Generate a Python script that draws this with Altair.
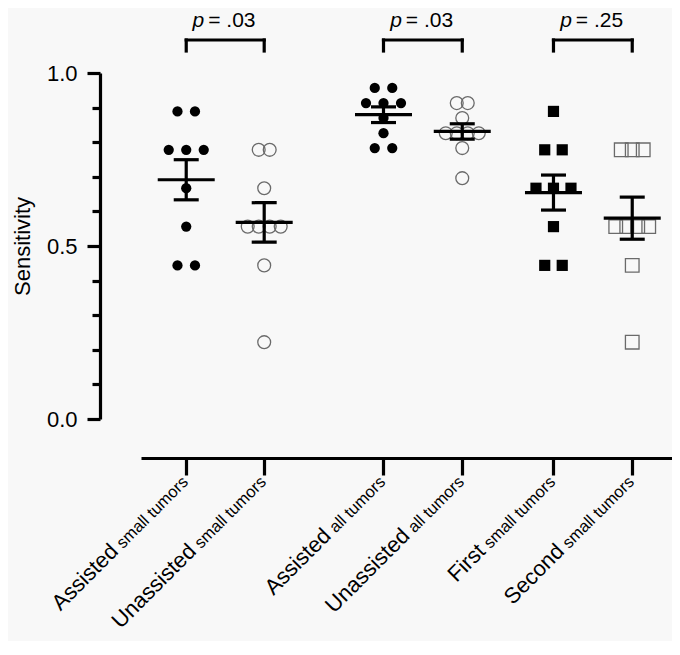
import altair as alt
import pandas as pd

# ---------------- data ----------------
groups = ["Assisted small", "Unassisted small", "Assisted all",
          "Unassisted all", "First small", "Second small"]
main_words = ["Assisted", "Unassisted", "Assisted", "Unassisted", "First", "Second"]
suffixes = ["small tumors", "small tumors", "all tumors", "all tumors",
            "small tumors", "small tumors"]

assisted_small = [0.889, 0.889, 0.778, 0.778, 0.778, 0.667, 0.556, 0.444, 0.444]
unassisted_small = [0.778, 0.778, 0.667, 0.556, 0.556, 0.556, 0.556, 0.444, 0.222]
assisted_all = [0.957, 0.957, 0.913, 0.913, 0.913, 0.870, 0.826, 0.783, 0.783]
unassisted_all = [0.913, 0.913, 0.870, 0.826, 0.826, 0.826, 0.826, 0.783, 0.696]
first_small = [0.889, 0.778, 0.778, 0.667, 0.667, 0.667, 0.556, 0.444, 0.444]
second_small = [0.778, 0.778, 0.778, 0.556, 0.556, 0.556, 0.556, 0.444, 0.222]
series = [assisted_small, unassisted_small, assisted_all,
          unassisted_all, first_small, second_small]

p_values = ["= .03", "= .03", "= .25"]
pair_first = [0, 2, 4]
pair_second = [1, 3, 5]

# ---------------- layout / style ----------------
positions = [1.0, 2.0, 3.53, 4.54, 5.71, 6.72]
markers = ["circle", "circle", "circle", "circle", "square", "square"]
filled = [True, False, True, False, True, False]
X_DOMAIN = [0.42, 7.23]
W, H = 531, 346
PX_PER_UNIT = W / (X_DOMAIN[1] - X_DOMAIN[0])
FONT = "Liberation Sans"
LW = 3.2

rows = []
for g, pos, vals, mk, fl in zip(groups, positions, series, markers, filled):
    for v in vals:
        rows.append({"group": g, "pos": pos, "value": v, "marker": mk, "filled": fl})
points_df = pd.DataFrame(rows)

labels_df = pd.DataFrame({"pos": positions, "main": main_words, "suffix": suffixes})
brackets_df = pd.DataFrame({
    "left": [positions[i] for i in pair_first],
    "right": [positions[i] for i in pair_second],
    "p": p_values,
})
brackets_df["mid"] = (brackets_df["left"] + brackets_df["right"]) / 2

x_scale = alt.Scale(domain=X_DOMAIN, nice=False, zero=False)
x_axis = alt.Axis(values=positions, labels=False, title=None, grid=False,
                  tickSize=17, tickWidth=LW, tickColor="black",
                  domainWidth=LW, domainColor="black", offset=39)
y_scale = alt.Scale(domain=[0, 1], nice=False, zero=False)
y_axis = alt.Axis(
    values=[0, 0.1, 0.2, 0.3, 0.4, 0.5, 0.6, 0.7, 0.8, 0.9, 1.0],
    labelExpr="datum.value % 0.5 === 0 ? format(datum.value, '.1f') : ''",
    tickSize={"condition": {"test": "datum.value % 0.5 === 0", "value": 13}, "value": 8},
    tickWidth=LW, tickColor="black", domainWidth=LW, domainColor="black",
    labelFontSize=22, labelFont=FONT, labelColor="black", labelPadding=10,
    title="Sensitivity", titleFont=FONT, titleFontSize=22, titleFontWeight="normal",
    titleColor="black", titlePadding=12, grid=False, offset=41,
)


def X(field):
    return alt.X(field, type="quantitative", scale=x_scale, axis=x_axis)


def Y(field):
    return alt.Y(field, type="quantitative", scale=y_scale, axis=y_axis)


base = alt.Chart(points_df).transform_window(
    rn="row_number()", groupby=["group", "value"]
).transform_joinaggregate(
    n="count()", groupby=["group", "value"]
).transform_calculate(
    step="datum.filled ? 17.5 : 11",
).transform_calculate(
    xj=f"datum.pos + (datum.rn - (datum.n + 1) / 2) * datum.step / {PX_PER_UNIT}"
)

filled_circles = base.transform_filter(
    "datum.filled && datum.marker === 'circle'"
).mark_point(filled=True, shape="circle", size=105, color="black", opacity=1).encode(
    x=X("xj"), y=Y("value"))
filled_squares = base.transform_filter(
    "datum.filled && datum.marker === 'square'"
).mark_point(filled=True, shape="square", size=125, color="black", opacity=1).encode(
    x=X("xj"), y=Y("value"))
open_circles = base.transform_filter(
    "!datum.filled && datum.marker === 'circle'"
).mark_point(filled=False, shape="circle", size=165, stroke="#6a6a6a",
             strokeWidth=1.3, opacity=1).encode(x=X("xj"), y=Y("value"))
open_squares = base.transform_filter(
    "!datum.filled && datum.marker === 'square'"
).mark_point(filled=False, shape="square", size=185, stroke="#6a6a6a",
             strokeWidth=1.3, opacity=1).encode(x=X("xj"), y=Y("value"))

stats = alt.Chart(points_df).transform_aggregate(
    m="mean(value)", se="stderr(value)", groupby=["group", "pos"]
).transform_calculate(lo="datum.m - datum.se", hi="datum.m + datum.se")

err_rule = stats.mark_rule(strokeWidth=LW, color="black").encode(
    x=X("pos"), y=Y("lo"), y2="hi")
mean_tick = stats.mark_tick(orient="horizontal", size=57, thickness=LW, color="black",
                            opacity=1).encode(x=X("pos"), y=Y("m"))
cap_lo = stats.mark_tick(orient="horizontal", size=25, thickness=LW, color="black",
                         opacity=1).encode(x=X("pos"), y=Y("lo"))
cap_hi = stats.mark_tick(orient="horizontal", size=25, thickness=LW, color="black",
                         opacity=1).encode(x=X("pos"), y=Y("hi"))

br = alt.Chart(brackets_df)
br_top = br.mark_rule(strokeWidth=LW, color="black", strokeCap="square").encode(
    x=X("left"), x2="right", y=alt.value(-33))
br_legs = br.transform_fold(["left", "right"], as_=["side", "xpos"]).mark_rule(
    strokeWidth=LW, color="black", strokeCap="square").encode(
    x=X("xpos"), y=alt.value(-33), y2=alt.value(-22))
p_italic = br.mark_text(text="p", font=FONT, fontStyle="italic", fontSize=21,
                        align="right", baseline="alphabetic", dx=-21,
                        color="black").encode(x=X("mid"), y=alt.value(-46))
p_rest = br.mark_text(font=FONT, fontSize=21, align="left", baseline="alphabetic",
                      dx=-17, color="black").encode(
    x=X("mid"), y=alt.value(-46), text="p:N")

LBL_Y = 410
SMALL_FS, BIG_FS = 16.5, 22
SMALL_W = {"small tumors": 5.667 * SMALL_FS, "all tumors": 4.334 * SMALL_FS}
GAP = 5
A = 2
lab = alt.Chart(labels_df)
small_lab = lab.mark_text(font=FONT, fontSize=SMALL_FS, angle=315, align="right",
                          baseline="alphabetic", dx=A, dy=A, color="black").encode(
    x=X("pos"), y=alt.value(LBL_Y), text="suffix:N")
big_small = lab.transform_filter("datum.suffix === 'small tumors'").mark_text(
    font=FONT, fontSize=BIG_FS, angle=315, align="right", baseline="alphabetic",
    dx=A - SMALL_W["small tumors"] - GAP, dy=A, color="black").encode(
    x=X("pos"), y=alt.value(LBL_Y), text="main:N")
big_all = lab.transform_filter("datum.suffix === 'all tumors'").mark_text(
    font=FONT, fontSize=BIG_FS, angle=315, align="right", baseline="alphabetic",
    dx=A - SMALL_W["all tumors"] - GAP, dy=A, color="black").encode(
    x=X("pos"), y=alt.value(LBL_Y), text="main:N")

chart = alt.layer(
    open_circles, open_squares, filled_circles, filled_squares,
    err_rule, mean_tick, cap_lo, cap_hi,
    br_top, br_legs, p_italic, p_rest,
    small_lab, big_small, big_all,
).properties(
    width=W, height=H,
    autosize=alt.AutoSizeParams(type="none"),
    padding={"left": 133, "top": 65, "right": 0, "bottom": 222},
    background="#f8f8f8",
).configure_view(stroke=None)

chart.save("out.html", embed_options={"renderer": "svg", "actions": False})
